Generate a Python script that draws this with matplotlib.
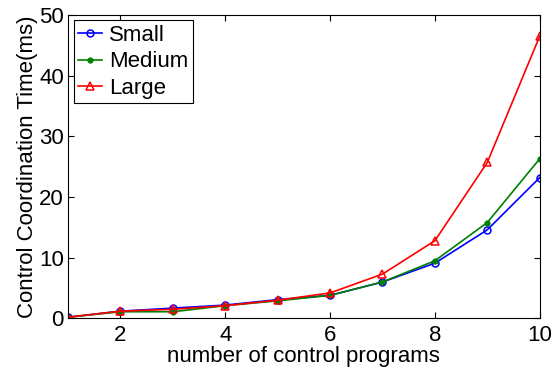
import matplotlib
matplotlib.use("Agg")
import matplotlib.pyplot as plt

plt.rcParams["font.family"] = ["Liberation Sans", "DejaVu Sans"]

programs = [1, 2, 3, 4, 5, 6, 7, 8, 9, 10]
small  = [0.2, 1.2, 1.7, 2.2, 3.1, 3.8, 6.0, 9.1, 14.6, 23.2]
medium = [0.2, 1.1, 1.1, 2.1, 2.9, 3.8, 6.0, 9.5, 15.8, 26.3]
large  = [0.2, 1.2, 1.5, 2.1, 3.0, 4.2, 7.3, 12.8, 25.7, 46.5]

fig = plt.figure(figsize=(5.57, 3.72), dpi=100)
ax = fig.add_axes([0.122, 0.144, 0.847, 0.816])

ax.plot(programs, small, color="blue", marker="o", markersize=5,
        markerfacecolor="none", markeredgewidth=1.1, linewidth=1.2, label="Small")
ax.plot(programs, medium, color="green", marker=".", markersize=7,
        linewidth=1.2, label="Medium")
ax.plot(programs, large, color="red", marker="^", markersize=6,
        markerfacecolor="none", markeredgewidth=1.1, linewidth=1.2, label="Large")

ax.set_xlim(1, 10)
ax.set_ylim(0, 50)
ax.set_xticks([2, 4, 6, 8, 10])
ax.set_yticks([0, 10, 20, 30, 40, 50])
ax.tick_params(direction="in", top=True, right=True, labelsize=16, length=4)
ax.tick_params(axis="x", pad=5)
ax.tick_params(axis="y", pad=3)
for s in ax.spines.values():
    s.set_linewidth(0.8)

ax.set_xlabel("number of control programs", fontsize=16, labelpad=0)
ax.set_ylabel("Control Coordination Time(ms)", fontsize=16, labelpad=1)

leg = ax.legend(loc="upper left", fontsize=16, handlelength=1.1,
                handletextpad=0.3, labelspacing=0.25, borderpad=0.2,
                borderaxespad=0.25, fancybox=False, framealpha=1)
leg.get_frame().set_edgecolor("black")
leg.get_frame().set_linewidth(0.8)

fig.savefig("out.png", dpi=100)
